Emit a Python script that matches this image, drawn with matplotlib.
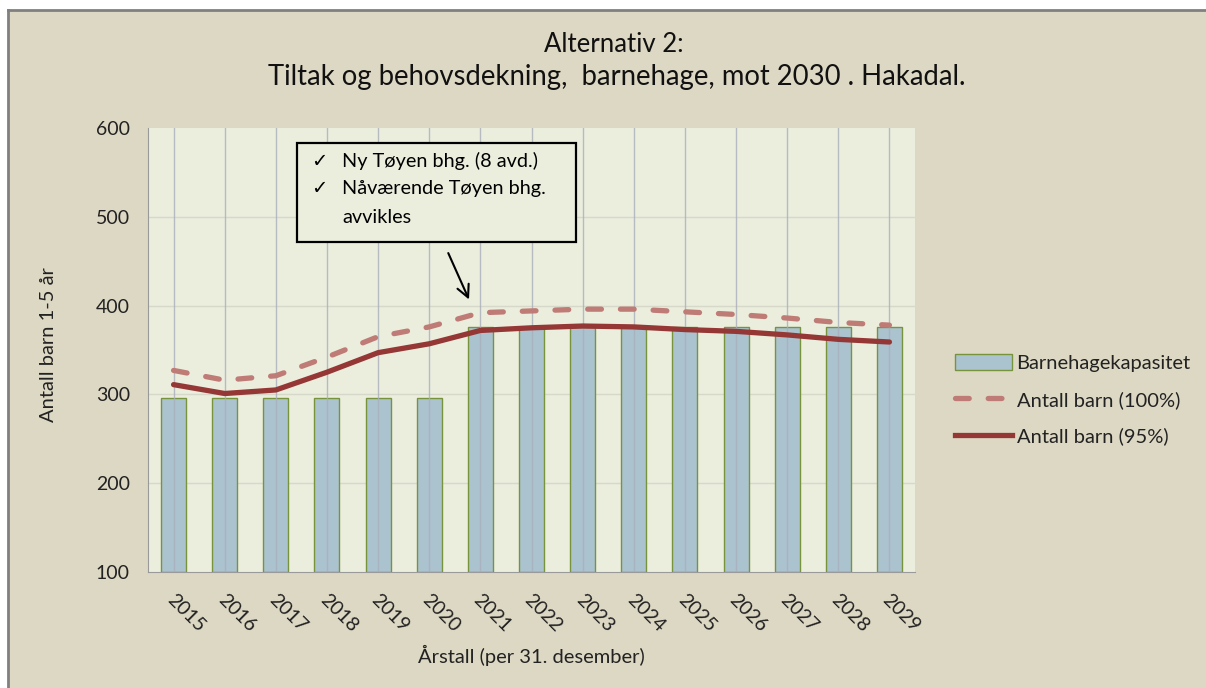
import numpy as np
import matplotlib
matplotlib.use("Agg")
import matplotlib.pyplot as plt
from matplotlib.patches import Rectangle, Patch
from matplotlib.lines import Line2D
from matplotlib.transforms import ScaledTranslation

plt.rcParams['font.family'] = ['Lato', 'DejaVu Sans']

years = ["2015", "2016", "2017", "2018", "2019", "2020", "2021", "2022",
         "2023", "2024", "2025", "2026", "2027", "2028", "2029"]
kapasitet = [296, 296, 296, 296, 296, 296, 376, 376, 376, 376, 376, 376, 376, 376, 376]
barn_100 = [327, 316, 321, 342, 365, 376, 392, 394, 396, 396, 393, 390, 386, 381, 378]
barn_95 = [311, 301, 305, 325, 347, 357, 372, 375, 377, 376, 373, 371, 367, 362, 359]

bg = "#DDD8C3"
plot_bg = "#EBEEDD"
W, H = 1206, 688

fig = plt.figure(figsize=(12.06, 6.88), dpi=100, facecolor="white")
# chart area (white strip outside the border on top/left)
fig.add_artist(Rectangle((8 / W, -0.01), 1.02 - 8 / W, 1.01 - 10 / H, transform=fig.transFigure,
                         facecolor=bg, edgecolor="none", zorder=0))
fig.add_artist(Line2D([8 / W, 8 / W], [0, 1 - 10 / H], transform=fig.transFigure,
                      color="#808080", linewidth=2, zorder=1))
fig.add_artist(Line2D([8 / W, 1], [1 - 10 / H, 1 - 10 / H], transform=fig.transFigure,
                      color="#808080", linewidth=2, zorder=1))

ax = fig.add_axes([148 / W, 1 - 572 / H, 767 / W, 444 / H])
ax.set_zorder(2)
ax.set_facecolor(plot_bg)

x = np.arange(len(years))
ax.bar(x, [k - 100 for k in kapasitet], bottom=100, width=0.49, color="#ABC3CF",
       edgecolor="#77933C", linewidth=1.0, zorder=2)

# vertical gridlines drawn over the bars
for xi in x:
    ax.axvline(xi, color="#A9AEBB", linewidth=1.0, alpha=0.8, zorder=3)
for yv in [200, 300, 400, 500]:
    ax.axhline(yv, color="#D6D9C9", linewidth=1.0, zorder=1)

ax.plot(x, barn_100, color="#BF7B75", linewidth=3.8, linestyle=(0, (2.6, 3.6)),
        dash_capstyle="round", zorder=4)
ax.plot(x, barn_95, color="#953735", linewidth=3.8, solid_capstyle="round", zorder=5)

ax.set_xlim(-0.5, len(years) - 0.5)
ax.set_ylim(100, 600)
ax.set_yticks([100, 200, 300, 400, 500, 600])
ax.set_xticks(x)
ax.set_xticklabels(years, rotation=-45, ha="left", rotation_mode="default")
ax.tick_params(axis="both", length=0, labelsize=14, colors="#222222")
ax.tick_params(axis="x", pad=14)
ax.tick_params(axis="y", pad=13)
shift = ScaledTranslation(-10 / 100, 0, fig.dpi_scale_trans)
for lbl in ax.get_xticklabels():
    lbl.set_transform(lbl.get_transform() + shift)

for s in ["top", "right"]:
    ax.spines[s].set_visible(False)
ax.spines["left"].set_color("#9A9A9A")
ax.spines["bottom"].set_color("#9A9A9A")

ax.set_xlabel("Årstall (per 31. desember)", fontsize=14.5, color="#222222", labelpad=7)
fig.text(49 / W, 1 - 345 / H, "Antall barn 1-5 år", rotation=90, fontsize=14.5,
         color="#222222", ha="center", va="center")

fig.text(614 / W, 1 - 45 / H, "Alternativ 2:", fontsize=18.5, ha="center",
         va="center", color="#111111")
fig.text(617 / W, 1 - 77 / H,
         "Tiltak og behovsdekning,  barnehage, mot 2030 . Hakadal.",
         fontsize=19.8, ha="center", va="center", color="#111111")

# annotation box
ax.add_patch(Rectangle((0.194, 0.743), 0.364, 0.223, transform=ax.transAxes,
                       facecolor=plot_bg, edgecolor="black", linewidth=1.6, zorder=6))
notes = ["Ny Tøyen bhg. (8 avd.)", "Nåværende Tøyen bhg."]
ys = [0.925, 0.864]
for txt, yy in zip(notes, ys):
    ax.text(0.213, yy, "✓", transform=ax.transAxes, fontsize=14, va="center",
            ha="left", family=["DejaVu Sans"], zorder=7)
    ax.text(0.253, yy, txt, transform=ax.transAxes, fontsize=14.3, va="center",
            ha="left", zorder=7)
ax.text(0.253, 0.799, "avvikles", transform=ax.transAxes, fontsize=14.3, va="center",
        ha="left", zorder=7)
ax.annotate("", xy=(5.8, 404), xytext=(5.35, 462),
            arrowprops=dict(arrowstyle="->", color="black", lw=1.5,
                            mutation_scale=22), zorder=7)

handles = [Patch(facecolor="#ABC3CF", edgecolor="#77933C", linewidth=1.0),
           Line2D([], [], color="#BF7B75", linewidth=3.8, linestyle=(0, (2.6, 3.6)),
                  dash_capstyle="round"),
           Line2D([], [], color="#953735", linewidth=3.8)]
labels = ["Barnehagekapasitet", "Antall barn (100%)", "Antall barn (95%)"]
leg = fig.legend(handles, labels, loc="upper left", bbox_to_anchor=(937 / W, 1 - 336 / H),
                 frameon=False, fontsize=14.5, handlelength=2.8, handleheight=0.85,
                 labelspacing=0.92, handletextpad=0.25, labelcolor="#222222")
leg.set_zorder(3)

fig.savefig("out.png", dpi=100, facecolor="white")
